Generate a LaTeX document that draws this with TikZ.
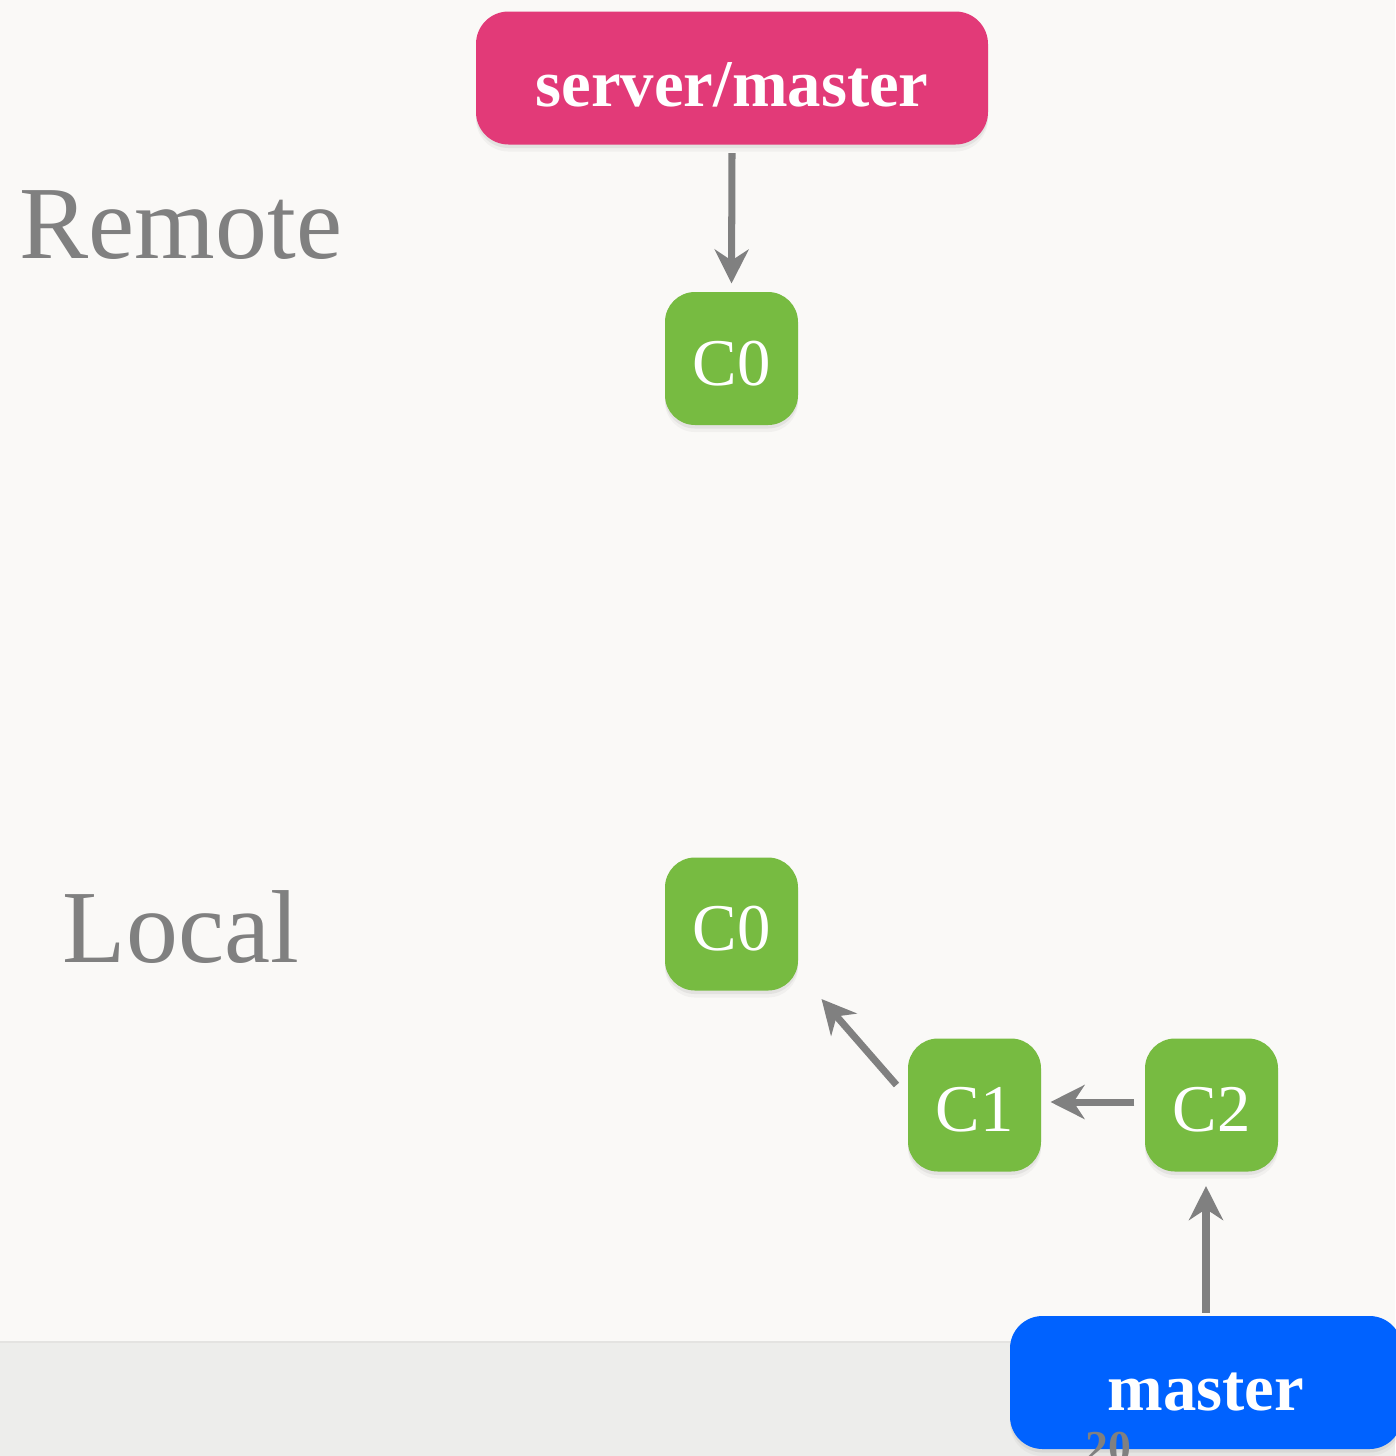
\documentclass[tikz,border=0pt]{standalone}
\usepackage{fontspec}
\setmainfont{Liberation Serif}
\usetikzlibrary{arrows.meta,shadows}

\definecolor{pagebg}{RGB}{250,249,247}
\definecolor{footbg}{RGB}{237,237,235}
\definecolor{footline}{RGB}{228,227,225}
\definecolor{commitgreen}{RGB}{119,187,65}
\definecolor{remotepink}{RGB}{226,58,120}
\definecolor{localblue}{RGB}{0,98,255}
\definecolor{arrowgray}{RGB}{128,128,128}

\begin{document}
\begin{tikzpicture}[line width=4pt,
softshadow/.style={drop shadow={shadow xshift=0pt,shadow yshift=-4pt,opacity=0.07},drop shadow={shadow xshift=0pt,shadow yshift=-2pt,opacity=0.12}},
commit/.style={fill=commitgreen,rounded corners=0.6cm,minimum width=2.66cm,minimum height=2.66cm,inner sep=0pt,text height=1.06cm,text depth=0pt,text=white,font=\fontsize{38}{44}\selectfont,softshadow},
branch/.style={rounded corners=0.65cm,minimum height=2.66cm,inner sep=0pt,text height=1.12cm,text depth=0pt,text=white,font=\bfseries\fontsize{38}{44}\selectfont,softshadow},
sidetext/.style={anchor=base west,inner sep=0pt,text=arrowgray,font=\fontsize{59}{66}\selectfont},
pointer/.style={draw=arrowgray,line width=4pt,-{Stealth[length=0.68cm,width=0.68cm,inset=0.22cm]}}]

\useasboundingbox (0,0) rectangle (27.9,-29.12);
\fill[pagebg] (0,0) rectangle (27.9,-29.12);
\fill[footbg] (0,-26.84) rectangle (27.9,-29.12);
\draw[footline,line width=1pt] (0,-26.84) -- (27.9,-26.84);

\draw (3.62,-5.16) node[sidetext,anchor=base] (remote) {Remote};
\draw (3.62,-19.24) node[sidetext,anchor=base] (local) {Local};

\draw (14.64,-1.56) node[branch,fill=remotepink,minimum width=10.24cm] (srvmaster) {server/master};
\draw (14.63,-7.17) node[commit] (rc0) {C0};

\draw (14.63,-18.48) node[commit] (lc0) {C0};
\draw (19.49,-22.10) node[commit] (lc1) {C1};
\draw (24.23,-22.10) node[commit] (lc2) {C2};
\draw (24.12,-27.65) node[branch,fill=localblue,minimum width=7.84cm,text height=1.1cm] (master) {master};

\draw[pointer] (srvmaster.south) ++(0,-0.1) -- ([yshift=0.1cm]rc0.north);
\draw[pointer] ([shift={(-0.16,0.4)}]lc1.west) -- ([shift={(0.4,-0.1)}]lc0.south east);
\draw[pointer] ([xshift=-0.14cm,yshift=0.06cm]lc2.west) -- ([xshift=0.12cm,yshift=0.06cm]lc1.east);
\draw[pointer] (master.north) -- ([yshift=-0.22cm]master.north |- lc2.south);

\draw (22.16,-28.58) node[anchor=north,inner sep=0pt,text=arrowgray,font=\bfseries\fontsize{26}{30}\selectfont] (pagenum) {20};
\end{tikzpicture}
\end{document}
